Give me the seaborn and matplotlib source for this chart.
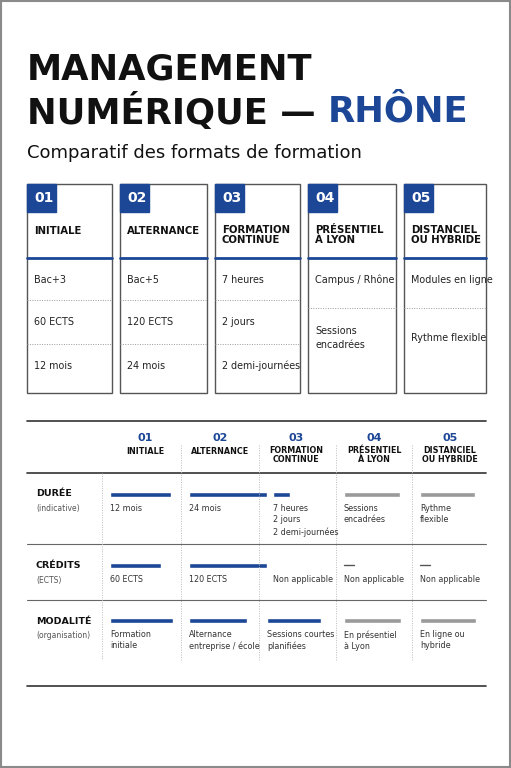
import matplotlib
matplotlib.use("Agg")
import matplotlib.pyplot as plt
import seaborn as sns
import pandas as pd

sns.set_theme(style="white")
plt.rcParams['font.family'] = ['DejaVu Sans']

BLUE = "#1c4696"
GRAY = "#9a9a9a"
DARK = "#111111"

# ---- data ----
numbers = ["01", "02", "03", "04", "05"]
card_titles = ["INITIALE", "ALTERNANCE", "FORMATION\nCONTINUE", "PRÉSENTIEL\nÀ LYON", "DISTANCIEL\nOU HYBRIDE"]
card_rows = [
    ["Bac+3", "60 ECTS", "12 mois"],
    ["Bac+5", "120 ECTS", "24 mois"],
    ["7 heures", "2 jours", "2 demi-journées"],
    ["Campus / Rhône", "Sessions\nencadrées"],
    ["Modules en ligne", "Rythme flexible"],
]
row_names = ["DURÉE", "CRÉDITS", "MODALITÉ"]
row_subs = ["(indicative)", "(ECTS)", "(organisation)"]
# bar length score per row / column (relative, 0-1 of a column)
bar_duree = [0.78, 1.0, 0.22, 0.72, 0.70]
bar_credits = [0.65, 1.0, 0.01, 0.0, 0.0]
bar_modalite = [0.81, 0.74, 0.69, 0.73, 0.72]
bar_blue = [True, True, True, False, False]
txt_duree = ["12 mois", "24 mois", "7 heures\n2 jours\n2 demi-journées", "Sessions\nencadrées", "Rythme\nflexible"]
txt_credits = ["60 ECTS", "120 ECTS", "Non applicable", "Non applicable", "Non applicable"]
txt_modalite = ["Formation\ninitiale", "Alternance\nentreprise / école", "Sessions courtes\nplanifiées",
                "En présentiel\nà Lyon", "En ligne ou\nhybride"]

fig = plt.figure(figsize=(5.11, 7.68), dpi=100)
ax = fig.add_axes([0, 0, 1, 1])
ax.set_xlim(0, 511)
ax.set_ylim(768, 0)
ax.axis("off")
fig.patch.set_facecolor("white")

# frame
ax.add_patch(plt.Rectangle((1, 1), 509, 766, fill=False, ec="#8a8a8a", lw=1.5))

# titles
ax.text(27, 70, "MANAGEMENT", fontsize=25.5, fontweight="bold", color=DARK, va="center")
t = ax.text(27, 112, "NUMÉRIQUE — ", fontsize=25.5, fontweight="bold", color=DARK, va="center")
fig.canvas.draw()
bb = t.get_window_extent().transformed(ax.transData.inverted())
ax.text(bb.x1, 112, "RHÔNE", fontsize=25.5, fontweight="bold", color=BLUE, va="center")
ax.text(27, 153, "Comparatif des formats de formation", fontsize=13, color=DARK, va="center")

# cards
card_x = [(27, 112), (120, 207), (215, 300), (308, 396), (404, 486)]
for i, (x0, x1) in enumerate(card_x):
    ax.add_patch(plt.Rectangle((x0, 184), x1 - x0, 209, fill=False, ec="#555555", lw=1))
    ax.add_patch(plt.Rectangle((x0, 184), 29, 28, color=BLUE))
    ax.text(x0 + 7, 198, numbers[i], color="white", fontsize=10, fontweight="bold", va="center")
    ax.text(x0 + 7, 235 if "\n" in card_titles[i] else 231, card_titles[i], fontsize=7.3,
            fontweight="bold", color=DARK, va="center", linespacing=1.05)
    ax.plot([x0, x1], [258, 258], color=BLUE, lw=2)
    rows = card_rows[i]
    if len(rows) == 3:
        ys, seps = [280, 322, 366], [300, 344]
    else:
        ys, seps = [280, 338], [308]
    for s in seps:
        ax.plot([x0, x1], [s, s], color="#999999", lw=0.7, ls=(0, (1, 1.5)))
    for y, r in zip(ys, rows):
        ax.text(x0 + 7, y, r, fontsize=6.9, color="#222222", va="center", linespacing=1.5)

# comparison table
ax.plot([27, 486], [421, 421], color="#333333", lw=1.2)
ax.plot([27, 486], [473, 473], color="#333333", lw=1.2)
ax.plot([27, 486], [544, 544], color="#666666", lw=0.8)
ax.plot([27, 486], [600, 600], color="#666666", lw=0.8)
ax.plot([27, 486], [686, 686], color="#333333", lw=1.2)
for sx in [102, 181, 259, 336, 412]:
    ax.plot([sx, sx], [445 if sx > 102 else 473, 660], color="#bbbbbb", lw=0.7, ls=(0, (1, 1.5)))

col_c = [145, 220, 296, 374, 450]
col_x = [110, 189, 273, 344, 420]
col_w = 78
for i in range(5):
    ax.text(col_c[i], 438, numbers[i], color=BLUE, fontsize=8, fontweight="bold", ha="center", va="center")
    two = "\n" in card_titles[i]
    ax.text(col_c[i], 446 if two else 452, card_titles[i], fontsize=5.8, fontweight="bold",
            ha="center", va="top" if two else "center", color=DARK, linespacing=1.05)

row_y = [494, 565, 621]
for name, sub, y in zip(row_names, row_subs, row_y):
    ax.text(36, y, name, fontsize=6.8, fontweight="bold", color=DARK, va="center")
    ax.text(36, y + 15, sub, fontsize=5.5, color="#555555", va="center")

df = pd.DataFrame({
    "row": ["duree"] * 5 + ["credits"] * 5 + ["modalite"] * 5,
    "score": bar_duree + bar_credits + bar_modalite,
    "col": list(range(5)) * 3,
})
for r, y, texts in [("duree", 494, txt_duree), ("credits", 565, txt_credits), ("modalite", 620, txt_modalite)]:
    sub = df[df.row == r]
    for _, rec in sub.iterrows():
        c = int(rec.col)
        x0 = col_x[c] if not (r == "modalite" and c == 2) else 267
        color = BLUE if bar_blue[c] else GRAY
        if rec.score > 0:
            ax.barh(y, rec.score * col_w, left=x0, height=5, color=color)
        else:
            ax.plot([x0, x0 + 10], [y, y], color="#555555", lw=1)
        ax.text(x0, y + 10, texts[c], fontsize=5.8, color="#333333", va="top", linespacing=1.35)

fig.savefig("out.png", dpi=100, facecolor="white")
